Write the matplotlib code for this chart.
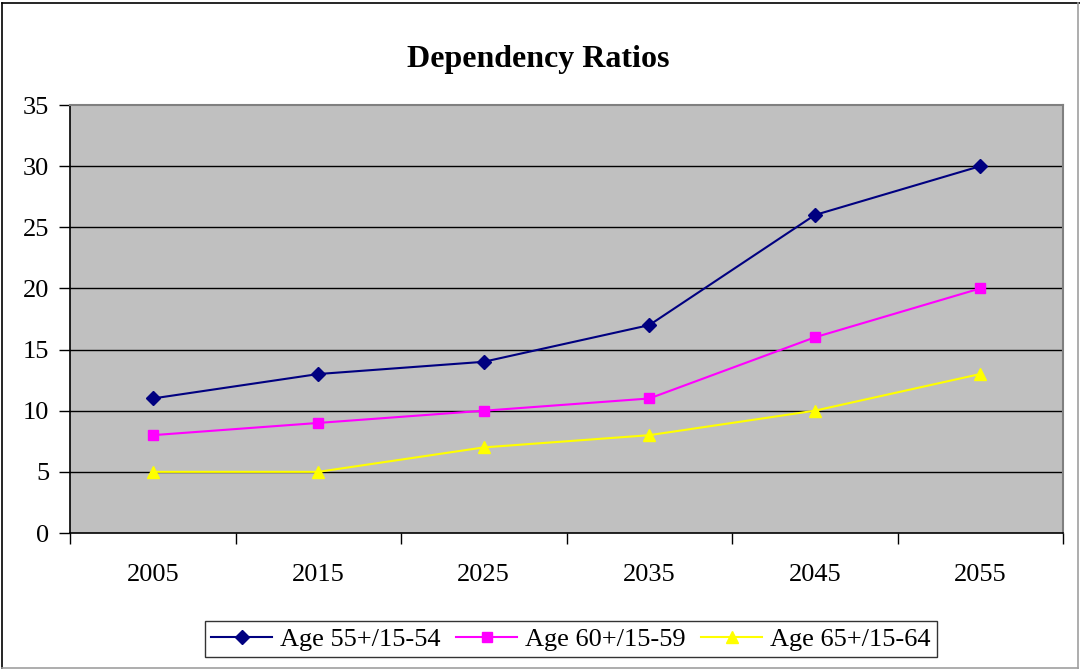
import matplotlib
matplotlib.use("Agg")
import matplotlib.pyplot as plt
from matplotlib.lines import Line2D

years = ["2005", "2015", "2025", "2035", "2045", "2055"]
age55 = [11, 13, 14, 17, 26, 30]
age60 = [8, 9, 10, 11, 16, 20]
age65 = [5, 5, 7, 8, 10, 13]
labels = ["Age 55+/15-54", "Age 60+/15-59", "Age 65+/15-64"]
yticks = [0, 5, 10, 15, 20, 25, 30, 35]

plt.rcParams['font.family'] = ['Liberation Serif', 'DejaVu Serif']

W, H = 1080, 669
fig = plt.figure(figsize=(W / 100, H / 100), dpi=100)
ax = fig.add_axes([70 / W, 1 - 533 / H, (1063 - 70) / W, (533 - 105) / H])
ax.set_facecolor('#c0c0c0')

x = list(range(len(years)))
ax.plot(x, age55, color='#000080', marker='D', markersize=7, lw=1.5, label=labels[0], zorder=3)
ax.plot(x, age60, color='#ff00ff', marker='s', markersize=7, lw=1.5, label=labels[1], zorder=3)
ax.plot(x, age65, color='#ffff00', marker='^', markersize=8, lw=1.5, label=labels[2], zorder=3)

ax.set_xlim(-0.5, len(years) - 0.5)
ax.set_ylim(0, 35)
ax.set_yticks(yticks)
ax.set_yticklabels([str(v) for v in yticks], fontsize=19)
ax.set_xticks(x)
ax.set_xticklabels(years, fontsize=19)
ax.set_xticks([i - 0.5 for i in range(len(years) + 1)], minor=True)
ax.tick_params(axis='x', which='major', length=0, pad=22)
ax.tick_params(axis='x', which='minor', length=8, width=1, color='black', direction='out')
ax.tick_params(axis='y', which='major', length=8, width=1, color='black', direction='out', pad=7)

for v in yticks[1:-1]:
    ax.axhline(v, color='black', lw=1, zorder=1)

for side in ['top', 'right']:
    ax.spines[side].set_color('#808080')
    ax.spines[side].set_linewidth(1.5)
for side in ['left', 'bottom']:
    ax.spines[side].set_color('black')
    ax.spines[side].set_linewidth(1.2)

fig.text(538 / W, 1 - 60 / H, "Dependency Ratios", ha='center', va='center',
         fontsize=23, fontweight='bold')

leg = fig.legend(loc='center', bbox_to_anchor=(571 / W, 1 - 639 / H), ncol=3,
                 fontsize=19, frameon=True, fancybox=False, edgecolor='black',
                 handlelength=2.3, handletextpad=0.3, columnspacing=0.6,
                 borderpad=0.25)
leg.get_frame().set_linewidth(1.0)

# figure border
fig.add_artist(Line2D([2 / W, 2 / W], [0, 1 - 3 / H], color='black', lw=1.2, transform=fig.transFigure))
fig.add_artist(Line2D([2 / W, 1], [1 - 3 / H, 1 - 3 / H], color='black', lw=1.2, transform=fig.transFigure))
fig.add_artist(Line2D([1078 / W, 1078 / W], [0, 1 - 3 / H], color='#a0a0a0', lw=1.2, transform=fig.transFigure))
fig.add_artist(Line2D([2 / W, 1078 / W], [1.5 / H, 1.5 / H], color='#a0a0a0', lw=1.2, transform=fig.transFigure))

fig.savefig("out.png", dpi=100)
